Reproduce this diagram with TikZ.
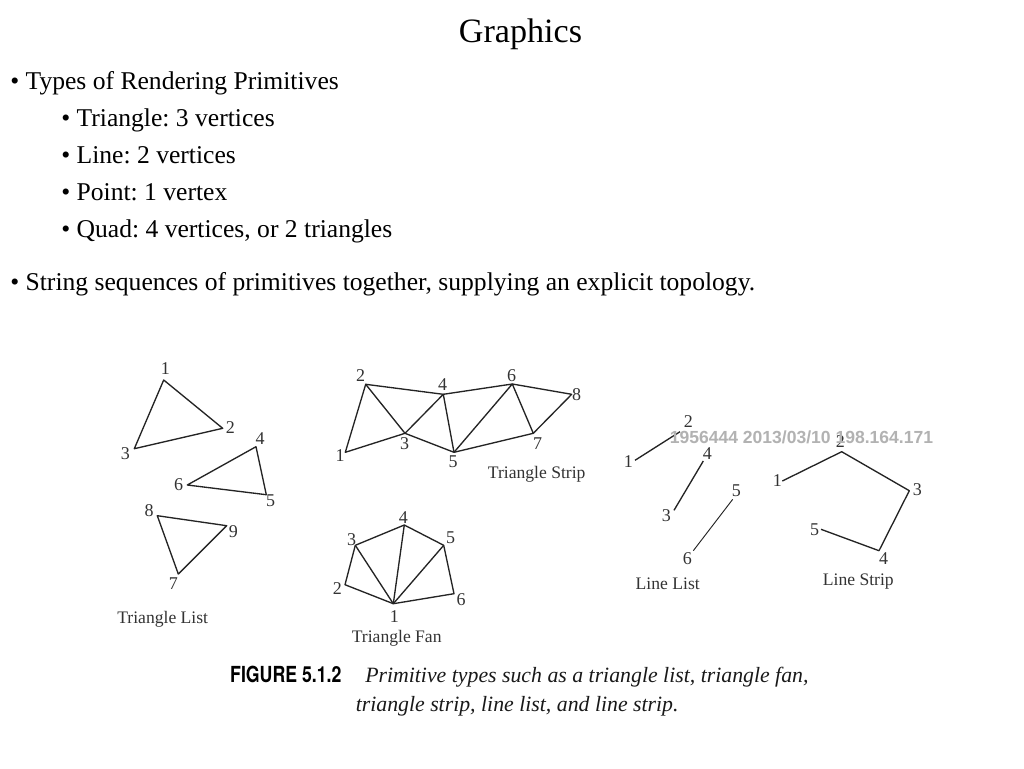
\documentclass[tikz,border=0pt]{standalone}
\usepackage{fontspec}
\setmainfont{Liberation Serif}
\newfontfamily\wmfont{Liberation Sans}
\newfontfamily\figfont{TeX Gyre Heros}
\definecolor{inkline}{gray}{0.14}
\definecolor{inklabel}{gray}{0.2}
\definecolor{wmgray}{gray}{0.70}
\frenchspacing
\tikzset{
  slidetext/.style={anchor=base west,inner sep=0pt,font=\fontsize{19.2}{22}\selectfont,text=black},
  titletext/.style={anchor=base,inner sep=0pt,font=\fontsize{25.6}{30}\selectfont,text=black},
  vnum/.style={inner sep=0pt,font=\fontsize{13.5}{15}\selectfont,text=inklabel},
  figlabel/.style={inner sep=0pt,font=\fontsize{13.2}{15}\selectfont,text=inklabel},
  edge/.style={draw=inkline,line width=1pt,line join=round},
  thinedge/.style={draw=inkline,line width=0.7pt},
  watermark/.style={inner sep=0pt,font=\wmfont\bfseries\fontsize{13.15}{15}\selectfont,text=wmgray},
  capbold/.style={anchor=base west,inner sep=0pt,font=\figfont\bfseries\fontsize{16.6}{19}\selectfont,text=black},
  capital/.style={anchor=base west,inner sep=0pt,font=\itshape\fontsize{16.35}{19}\selectfont,text=black!90}
}
\begin{document}
\begin{tikzpicture}[x=0.75pt,y=-0.75pt]
\useasboundingbox (0,0) rectangle (1024,768);
\fill[white] (0,0) rectangle (1024,768);
% Slide text
\node[titletext] (title) at (520.5,42) {Graphics};
\node[slidetext] (b1) at (10,89.5) {• Types of Rendering Primitives};
\node[slidetext] (b2) at (61,126.5) {• Triangle: 3 vertices};
\node[slidetext] (b3) at (61,163.5) {• Line: 2 vertices};
\node[slidetext] (b4) at (61,200.5) {• Point: 1 vertex};
\node[slidetext] (b5) at (61,237) {• Quad: 4 vertices, or 2 triangles};
\node[slidetext] (b6) at (10,290.5) {• String sequences of primitives together, supplying an explicit topology.};
% Triangle list
\coordinate (a1) at (163.7,380);
\coordinate (a2) at (222.7,428.3);
\coordinate (a3) at (134.3,448.7);
\coordinate (a4) at (256,446.7);
\coordinate (a5) at (266.3,494.7);
\coordinate (a6) at (187.3,485);
\coordinate (a7) at (178.3,574);
\coordinate (a8) at (157.3,515.7);
\coordinate (a9) at (226.7,525.7);
\draw[edge] (a1) -- (a2) -- (a3) -- cycle;
\draw[edge] (a4) -- (a5) -- (a6) -- cycle;
\draw[edge] (a7) -- (a8) -- (a9) -- cycle;
\node[vnum] (la1) at (165.3,368.3) {1};
\node[vnum] (la2) at (230.3,428) {2};
\node[vnum] (la3) at (125.3,454) {3};
\node[vnum] (la4) at (260,438.7) {4};
\node[vnum] (la5) at (270.7,501) {5};
\node[vnum] (la6) at (178.7,484.3) {6};
\node[vnum] (la7) at (173.3,583.3) {7};
\node[vnum] (la8) at (149,510.7) {8};
\node[vnum] (la9) at (233.3,532) {9};
\node[figlabel] (lista) at (162.7,619) {Triangle List};
% Triangle strip
\coordinate (s1) at (345.3,452.3);
\coordinate (s2) at (365.7,384.3);
\coordinate (s3) at (405,433.3);
\coordinate (s4) at (443.3,394.3);
\coordinate (s5) at (454,452.3);
\coordinate (s6) at (512.3,384);
\coordinate (s7) at (533.3,433.3);
\coordinate (s8) at (571.7,394.3);
\draw[edge] (s1) -- (s2) -- (s3) -- cycle;
\draw[edge] (s2) -- (s4) -- (s3);
\draw[edge] (s3) -- (s5) -- (s4);
\draw[edge] (s4) -- (s6) -- (s5);
\draw[edge] (s5) -- (s7) -- (s6);
\draw[edge] (s6) -- (s8) -- (s7);
\node[vnum] (ls1) at (340,455.7) {1};
\node[vnum] (ls2) at (360.7,375.7) {2};
\node[vnum] (ls3) at (404.7,444) {3};
\node[vnum] (ls4) at (442.7,385) {4};
\node[vnum] (ls5) at (453,461.3) {5};
\node[vnum] (ls6) at (511.7,375.7) {6};
\node[vnum] (ls7) at (537.7,443.7) {7};
\node[vnum] (ls8) at (576.7,394.3) {8};
\node[figlabel] (strip) at (536.7,474.5) {Triangle Strip};
% Triangle fan
\coordinate (f1) at (393.3,603.7);
\coordinate (f2) at (345,584.7);
\coordinate (f3) at (355.3,545.3);
\coordinate (f4) at (404.3,525);
\coordinate (f5) at (443.7,545.3);
\coordinate (f6) at (454,593.7);
\draw[edge] (f1) -- (f2) -- (f3) -- (f4) -- (f5) -- (f6) -- cycle;
\draw[edge] (f1) -- (f3);
\draw[edge] (f1) -- (f4);
\draw[edge] (f1) -- (f5);
\node[vnum] (lf1) at (394.3,616.7) {1};
\node[vnum] (lf2) at (337.3,588.7) {2};
\node[vnum] (lf3) at (351.7,540) {3};
\node[vnum] (lf4) at (403.3,517.3) {4};
\node[vnum] (lf5) at (450.7,538) {5};
\node[vnum] (lf6) at (461,599.3) {6};
\node[figlabel] (fan) at (396.7,638) {Triangle Fan};
% Line list
\coordinate (l1) at (635,460.3);
\coordinate (l2) at (680,431.7);
\coordinate (l3) at (674,510.3);
\coordinate (l4) at (703.3,461);
\coordinate (l5) at (732.7,499.3);
\coordinate (l6) at (693.3,550.7);
\draw[edge] (l1) -- (l2);
\draw[edge] (l3) -- (l4);
\draw[thinedge] (l5) -- (l6);
\node[vnum] (ll1) at (628.3,461.7) {1};
\node[vnum] (ll2) at (688.3,421.7) {2};
\node[vnum] (ll3) at (666.3,515.7) {3};
\node[vnum] (ll4) at (707.3,453.5) {4};
\node[vnum] (ll5) at (736.3,490.7) {5};
\node[vnum] (ll6) at (687.3,558.7) {6};
\node[figlabel] (linelist) at (667.7,583.5) {Line List};
% Line strip
\coordinate (t1) at (782.3,481);
\coordinate (t2) at (841.7,451.7);
\coordinate (t3) at (909.3,490.7);
\coordinate (t4) at (879,550.7);
\coordinate (t5) at (821,529.3);
\draw[edge] (t1) -- (t2) -- (t3) -- (t4) -- (t5);
\node[vnum] (lt1) at (777.3,481) {1};
\node[vnum] (lt2) at (840.3,441.7) {2};
\node[vnum] (lt3) at (917.3,489.3) {3};
\node[vnum] (lt4) at (883.7,558.7) {4};
\node[vnum] (lt5) at (814.7,530) {5};
\node[figlabel] (linestrip) at (858.3,581.5) {Line Strip};
% Watermark
\node[watermark] (wm) at (801.5,437.5) {1956444 2013/03/10 198.164.171};
% Caption
\node[capbold,xscale=0.8] (capa) at (230,682) {FIGURE 5.1.2};
\node[capital] (capb) at (365,682) {Primitive types such as a triangle list, triangle fan,};
\node[capital] (capc) at (355.5,711) {triangle strip, line list, and line strip.};
\end{tikzpicture}
\end{document}
